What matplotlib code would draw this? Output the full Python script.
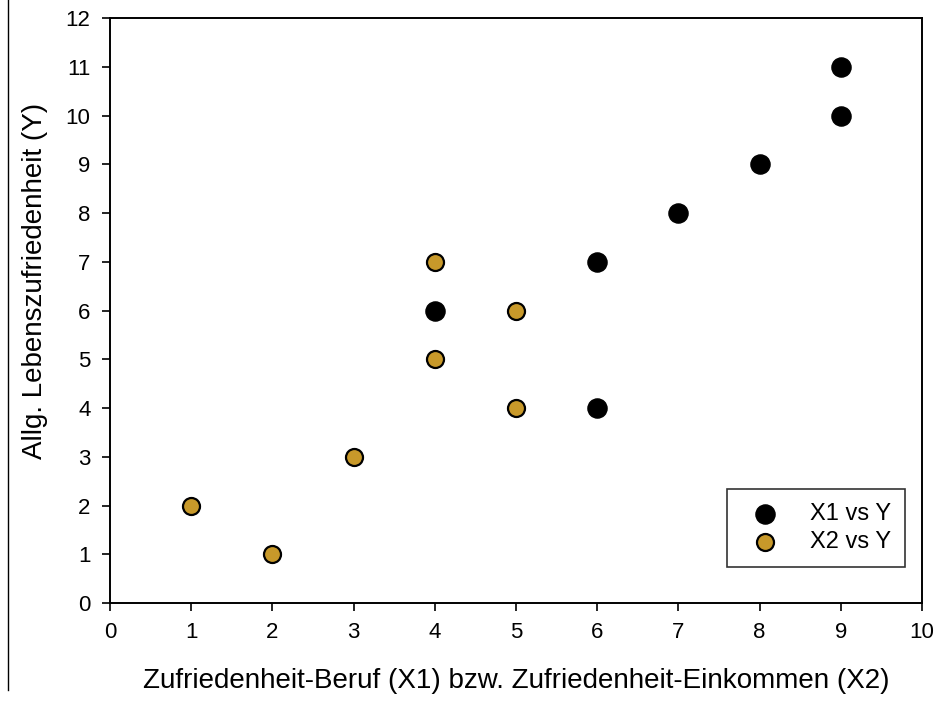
import matplotlib
matplotlib.use("Agg")
from matplotlib import pyplot as plt
from matplotlib.lines import Line2D

plt.rcParams['font.family'] = ['Liberation Sans', 'DejaVu Sans']

x1 = [4, 6, 6, 7, 8, 9, 9]
y1 = [6, 7, 4, 8, 9, 10, 11]
x2 = [1, 2, 3, 4, 4, 5, 5]
y2 = [2, 1, 3, 5, 7, 6, 4]
gold = '#c8992a'

fig = plt.figure(figsize=(9.42, 7.01), dpi=100)
ax = fig.add_axes([0.1168, 0.1398, 0.862, 0.8345])

ax.scatter(x1, y1, s=190, c='black', edgecolors='black', linewidths=1, zorder=3, label='X1 vs Y')
ax.scatter(x2, y2, s=150, c=gold, edgecolors='black', linewidths=1.6, zorder=3, label='X2 vs Y')

ax.set_xlim(0, 10)
ax.set_ylim(0, 12)
ax.set_xticks(range(0, 11))
ax.set_yticks(range(0, 13))
for s in ax.spines.values():
    s.set_linewidth(1.4)
ax.tick_params(direction='out', length=6, width=1.2, labelsize=16)
ax.tick_params(axis='x', pad=8)
ax.tick_params(axis='y', pad=8)

ax.set_xlabel('Zufriedenheit-Beruf (X1) bzw. Zufriedenheit-Einkommen (X2)', fontsize=20, labelpad=18)
ax.set_ylabel('Allg. Lebenszufriedenheit (Y)', fontsize=20)
ax.yaxis.set_label_coords(-0.077, 0.55)

leg = ax.legend(loc='lower right', bbox_to_anchor=(0.979, 0.0615), borderaxespad=0,
                fontsize=17, frameon=True, fancybox=False, edgecolor='black',
                handletextpad=0.9, borderpad=0.6, labelspacing=0.25, handlelength=2.0,
                scatterpoints=1)
leg.get_frame().set_linewidth(1.2)

# thin vertical rule at the left edge of the page
fig.add_artist(Line2D([8 / 942, 8 / 942], [1, 1 - 690 / 701], color='black', linewidth=1,
                      transform=fig.transFigure))

fig.savefig('out.png', dpi=100)
